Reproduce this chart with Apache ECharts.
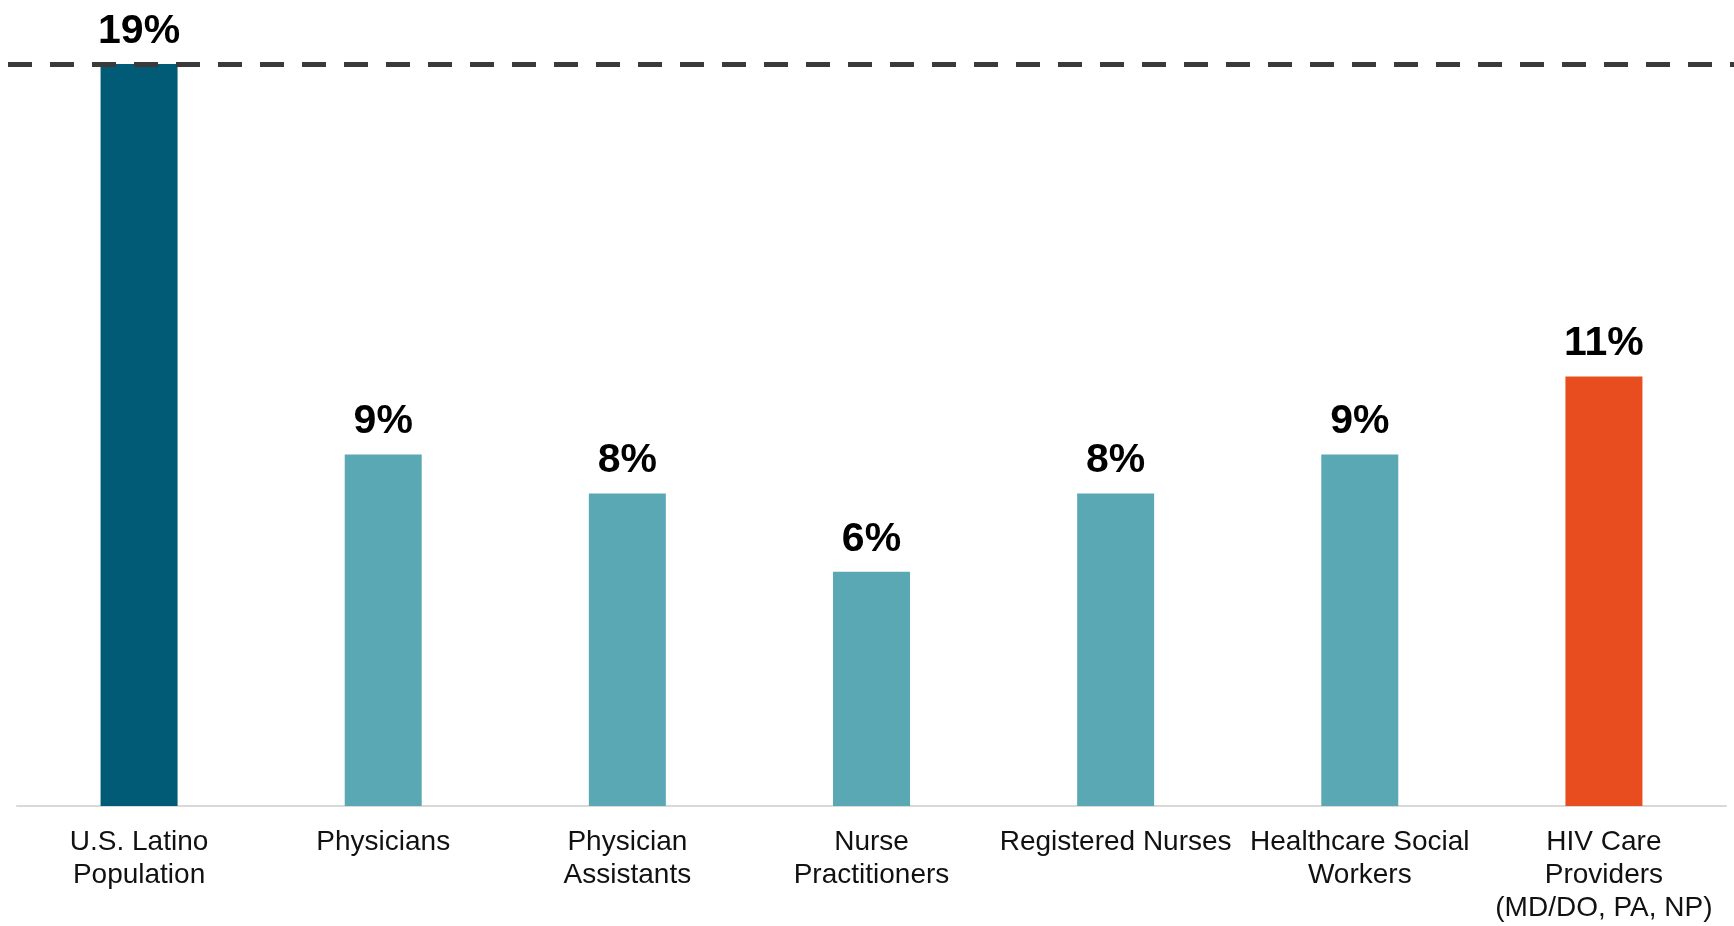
<!DOCTYPE html>
<html>
<head>
<meta charset="utf-8">
<script src="https://cdn.jsdelivr.net/npm/echarts@6/dist/echarts.min.js"></script>
<style>
html,body{margin:0;padding:0;background:#fff;}
#chart{width:1734px;height:926px;}
</style>
</head>
<body>
<div id="chart"></div>
<script>
const categories = [
  "U.S. Latino\nPopulation",
  "Physicians",
  "Physician\nAssistants",
  "Nurse\nPractitioners",
  "Registered Nurses",
  "Healthcare Social\nWorkers",
  "HIV Care\nProviders\n(MD/DO, PA, NP)"
];
const values = [19, 9, 8, 6, 8, 9, 11];
const referenceValue = 19;
const barColors = ["#025B76", "#5BA8B5", "#5BA8B5", "#5BA8B5", "#5BA8B5", "#5BA8B5", "#E84D1F"];

const chart = echarts.init(document.getElementById('chart'), null, {renderer: 'canvas'});
chart.setOption({
  animation: false,
  backgroundColor: '#ffffff',
  grid: [
    {left: 17, right: 8, top: 25, bottom: 120, containLabel: false},
    {left: 8, right: 0, top: 25, bottom: 120, containLabel: false}
  ],
  xAxis: [{
    type: 'category',
    gridIndex: 0,
    data: categories,
    axisLine: {show: true, lineStyle: {color: '#d9d9d9', width: 2}},
    axisTick: {show: false},
    axisLabel: {
      interval: 0,
      margin: 20,
      fontFamily: 'Liberation Sans, Arial, sans-serif',
      fontSize: 28,
      lineHeight: 33,
      color: '#111111'
    }
  }, {
    type: 'value',
    gridIndex: 1,
    min: 0,
    max: 1,
    show: false
  }],
  yAxis: [{
    type: 'value',
    gridIndex: 0,
    min: 0,
    max: 20,
    show: false,
    splitLine: {show: false}
  }, {
    type: 'value',
    gridIndex: 1,
    min: 0,
    max: 20,
    show: false,
    splitLine: {show: false}
  }],
  series: [{
    type: 'bar',
    xAxisIndex: 0,
    yAxisIndex: 0,
    barWidth: 77,
    data: values.map((v, i) => ({value: v, itemStyle: {color: barColors[i]}})),
    label: {
      show: true,
      position: 'top',
      distance: 12,
      formatter: p => p.value + '%',
      fontFamily: 'Liberation Sans, Arial, sans-serif',
      fontWeight: 'bold',
      fontSize: 41,
      color: '#000000'
    }
  }, {
    type: 'line',
    xAxisIndex: 1,
    yAxisIndex: 1,
    data: [],
    symbol: 'none',
    z: 10,
    markLine: {
      silent: true,
      symbol: ['none', 'none'],
      label: {show: false},
      lineStyle: {type: [24, 18], width: 5, color: '#3a3a3a'},
      data: [{yAxis: referenceValue}]
    }
  }]
});
</script>
</body>
</html>
